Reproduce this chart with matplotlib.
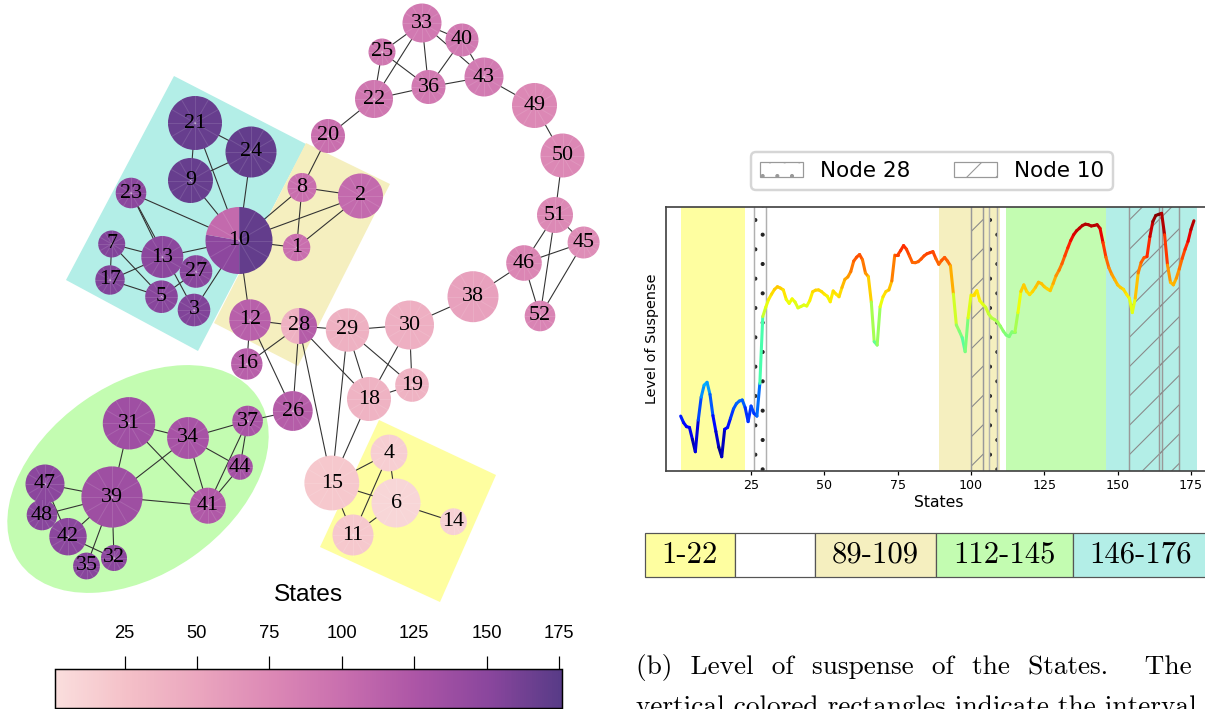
import numpy as np
import matplotlib as mpl
import matplotlib.pyplot as plt
from matplotlib.patches import Wedge, Polygon, Ellipse, Rectangle, Patch
from matplotlib.collections import LineCollection
from matplotlib.colors import LinearSegmentedColormap, Normalize

W, H, DPI = 1205, 709, 176
plt.rcParams['hatch.linewidth'] = 0.45

# ---------------- character network ----------------
node_ids = [33, 40, 25, 43, 36, 22, 49, 20, 50, 21, 24, 9, 8, 2, 23, 51, 45, 10, 1, 7,
            13, 27, 46, 17, 5, 3, 38, 52, 12, 28, 29, 30, 16, 19, 18, 26, 31, 34, 37, 44,
            4, 15, 6, 47, 39, 41, 14, 48, 42, 11, 32, 35]
node_x = [422, 462, 382, 484, 428.5, 374, 534.5, 328, 562.5, 195, 251, 190.5, 302, 360.5, 131, 555, 583.6, 239, 296.6, 111.7,
          162.3, 196, 524, 110, 161.5, 194, 473, 540, 250, 299, 347.5, 409.5, 246.8, 412, 369, 292.8, 129, 188, 247.6, 240,
          389, 331.8, 396, 45, 112, 207.8, 453.5, 42, 68, 353, 114, 86.5]
node_y = [23, 40, 52, 77, 87, 99, 105.5, 136, 155.5, 123, 152, 180.5, 187.5, 196, 193, 215, 242.5, 240.5, 247.5, 244,
          257, 271.5, 263, 280, 296.7, 310, 296.7, 316, 320, 326, 330, 325, 364, 385, 399, 411, 423.3, 438, 421, 467,
          453, 483, 503, 484, 497, 505.7, 521.7, 515, 536.7, 535, 558, 566]
node_r = [19.5, 16.5, 13.5, 19.5, 17, 19, 22.5, 17, 22, 27, 25.5, 22.5, 14.5, 22.5, 15.3, 18, 16, 33.5, 13.7, 13.5,
          21, 16.3, 17.8, 14.7, 16.3, 16.3, 25.5, 15.3, 20.7, 18, 21.7, 24.5, 15.7, 16.8, 22, 19.9, 26.2, 20.9, 15.3, 12.8,
          18.4, 27.4, 24.5, 19.5, 30.6, 18, 13.4, 15.3, 18.7, 20.5, 13, 13.4]
node_state = [90, 90, 92, 88, 90, 92, 76, 100, 76, 168, 170, 168, 100, 105, 150, 75, 72, 165, 100, 155,
              150, 152, 78, 155, 152, 155, 55, 80, 115, 80, 40, 42, 115, 38, 38, 118, 135, 130, 128, 132,
              14, 20, 8, 150, 136, 122, 12, 152, 150, 20, 150, 152]
# nodes whose states split into clearly different groups: (state, angle from, angle to)
split_nodes = {10: [(170, -90, 90), (148, 90, 190), (105, 190, 270)],
               28: [(40, 90, 270), (118, -90, 90)]}

edges = [(33, 25), (33, 22), (33, 36), (33, 40), (33, 43), (25, 22), (25, 36), (22, 36), (36, 43), (36, 40),
         (40, 43), (43, 49), (49, 50), (50, 51), (51, 46), (51, 52), (51, 45), (45, 46), (45, 52), (46, 52),
         (46, 38), (38, 30), (22, 20), (20, 8), (8, 2), (8, 1), (8, 10), (2, 10), (2, 1), (10, 1),
         (10, 9), (10, 21), (10, 24), (10, 23), (10, 13), (10, 3), (10, 12), (21, 24), (21, 9), (9, 24),
         (23, 13), (23, 3), (7, 13), (7, 17), (7, 5), (17, 13), (17, 5), (5, 27), (12, 28), (12, 16),
         (12, 26), (28, 16), (28, 26), (28, 29), (28, 18), (28, 15), (29, 30), (29, 18), (29, 15), (29, 19),
         (30, 18), (30, 19), (18, 19), (18, 15), (26, 37), (15, 4), (15, 6), (15, 11), (4, 6), (4, 11),
         (6, 11), (6, 14), (31, 34), (31, 39), (31, 41), (34, 37), (34, 39), (34, 41), (34, 44), (37, 44),
         (37, 41), (44, 41), (39, 47), (39, 48), (39, 41), (39, 42), (39, 32), (39, 35), (47, 42), (42, 32)]

# ---------------- suspense curve ----------------
states = np.arange(1, 177)
suspense = [20.8, 18.3, 16.8, 16.5, 12.0, 7.3, 19.3, 28.0, 32.5, 33.6,
            29.0, 21.0, 15.0, 9.0, 5.4, 15.8, 16.5, 20.0, 23.5, 25.5,
            26.5, 26.9, 24.0, 18.7, 24.6, 21.8, 20.8, 33.2, 58.5, 62.0,
            65.0, 67.0, 68.8, 69.8, 69.3, 68.6, 65.0, 63.5, 65.2, 64.0,
            61.8, 62.3, 62.9, 62.5, 64.5, 67.9, 68.5, 68.6, 68.0, 67.0,
            66.2, 64.1, 68.2, 67.0, 66.0, 69.5, 72.6, 73.5, 75.5, 79.5,
            81.0, 82.0, 80.0, 75.0, 73.6, 64.0, 49.0, 47.7, 62.2, 66.0,
            68.0, 68.6, 72.0, 81.8, 81.8, 83.5, 85.4, 84.0, 81.5, 79.0,
            78.9, 79.3, 80.3, 81.5, 82.3, 82.7, 83.1, 80.5, 78.3, 79.8,
            80.9, 79.5, 77.7, 67.0, 55.3, 53.0, 50.5, 45.2, 58.0, 66.7,
            66.7, 68.3, 64.5, 63.2, 62.0, 59.5, 58.0, 57.4, 56.5, 54.9,
            53.0, 51.5, 50.9, 52.8, 52.8, 60.0, 68.0, 70.5, 68.0, 66.8,
            68.0, 69.6, 71.5, 71.0, 69.8, 69.0, 68.3, 71.0, 74.0, 76.0,
            78.5, 81.5, 84.5, 87.3, 89.5, 91.0, 92.0, 93.0, 93.5, 93.3,
            92.8, 93.0, 93.3, 91.9, 86.5, 81.0, 77.0, 74.5, 72.5, 70.5,
            69.5, 68.8, 67.0, 65.4, 60.0, 65.5, 75.0, 79.0, 80.8, 81.2,
            88.8, 94.5, 96.8, 97.2, 97.6, 89.5, 78.0, 71.5, 70.5, 73.0,
            76.5, 80.5, 84.0, 87.0, 91.5, 94.8]

interval_labels = ['1-22', '', '89-109', '112-145', '146-176']
intervals = [(1, 22), (89, 109), (112, 145), (146, 176)]
node28_spans = [(26, 30), (106, 109)]
node10_spans = [(100, 104), (154, 165), (164, 171)]

c_yellow, c_beige, c_green, c_cyan = '#fefea0', '#f5efbf', '#c3fcb1', '#b3eee7'

state_cmap = LinearSegmentedColormap.from_list(
    'states', ['#fadedd', '#f4c0c8', '#eaa5be', '#dc88b5', '#c86eae', '#ac55a6', '#8a469d', '#583b87'])
state_norm = Normalize(1, 176)


def px_box(x0, y0, x1, y1):
    return [x0 / W, 1 - y1 / H, (x1 - x0) / W, (y1 - y0) / H]


fig = plt.figure(figsize=(W / DPI, H / DPI), dpi=DPI)

# ---- network ----
ax_net = fig.add_axes([0, 0, 1, 1])
ax_net.set_xlim(0, W)
ax_net.set_ylim(H, 0)
ax_net.set_axis_off()

ax_net.add_patch(Polygon([(174, 76), (306, 144), (198, 351), (66, 280)], color=c_cyan, lw=0, zorder=0))
ax_net.add_patch(Polygon([(306, 143), (390, 184), (298, 366), (214, 323)], color=c_beige, lw=0, zorder=0))
ax_net.add_patch(Polygon([(379, 420), (496, 475), (440, 602), (320, 547)], color=c_yellow, lw=0, zorder=0))
ax_net.add_patch(Ellipse((138, 479), 290, 190, angle=-35, color=c_green, lw=0, zorder=0))

pos = {n: (x, y) for n, x, y in zip(node_ids, node_x, node_y)}
ax_net.add_collection(LineCollection([[pos[a], pos[b]] for a, b in edges],
                                     colors='#333333', linewidths=0.45, zorder=1))

for n, x, y, r, s in zip(node_ids, node_x, node_y, node_r, node_state):
    parts = split_nodes.get(n, [(s, 0, 360)])
    for val, t0, t1 in parts:
        ax_net.add_patch(Wedge((x, y), r, t0, t1, facecolor=state_cmap(state_norm(val)),
                               edgecolor='none', zorder=2))
    # faint slice borders inside each node
    for t in np.arange(0, 360, 30):
        ax_net.plot([x, x + r * np.cos(np.radians(t))], [y, y + r * np.sin(np.radians(t))],
                    color='white', alpha=0.12, lw=0.4, zorder=3)
    ax_net.text(x, y, str(n), ha='center', va='center', fontsize=9,
                family='Liberation Serif', zorder=4)

cax = fig.add_axes(px_box(55, 669, 562, 708))
sm = mpl.cm.ScalarMappable(norm=state_norm, cmap=state_cmap)
cb = fig.colorbar(sm, cax=cax, orientation='horizontal', ticklocation='top')
cb.set_ticks([25, 50, 75, 100, 125, 150, 175])
cax.tick_params(length=5.2, width=0.5, labelsize=7.5, pad=6)
for t in cax.get_xticklabels():
    t.set_family('Liberation Sans')
cb.outline.set_linewidth(0.6)
fig.text(308.5 / W, 1 - 595 / H, 'States', ha='center', va='center', fontsize=10,
         family='Liberation Sans')

# ---- suspense curve ----
ax = fig.add_axes(px_box(666, 207, 1211.5, 471))
ax.set_xlim(-4, 182)
ax.set_ylim(0, 100)

for (a, b), c in zip(intervals, [c_yellow, c_beige, c_green, c_cyan]):
    ax.axvspan(a, b + 1, color=c, lw=0, zorder=0)
for a, b in node28_spans:
    ax.axvspan(a, b, facecolor='none', edgecolor='#222222', hatch='..', lw=0, zorder=1)
    for xv in (a, b):
        ax.axvline(xv, color='#b0b0b0', lw=0.6, zorder=1)
for a, b in node10_spans:
    ax.axvspan(a, b, facecolor='none', edgecolor='#8a8a8a', hatch='//', lw=0, zorder=1)
    for xv in (a, b):
        ax.axvline(xv, color='#999999', lw=0.6, zorder=1)

pts = np.column_stack([states, suspense])
segs = np.stack([pts[:-1], pts[1:]], axis=1)
mid = (np.array(suspense[:-1]) + np.array(suspense[1:])) / 2
lc = LineCollection(segs, cmap='jet', norm=Normalize(min(suspense), max(suspense)),
                    linewidths=1.25, capstyle='round', zorder=3)
lc.set_array(mid)
ax.add_collection(lc)

ax.set_xticks([25, 50, 75, 100, 125, 150, 175])
ax.set_yticks([])
ax.tick_params(axis='x', length=1.8, width=0.5, labelsize=5.2, pad=1.5)
for sp in ax.spines.values():
    sp.set_linewidth(0.7)
    sp.set_color('#444444')
ax.set_xlabel('States', fontsize=6.4, labelpad=1)
ax.set_ylabel('Level of Suspense', fontsize=5.9, labelpad=3)

handles = [Patch(facecolor='white', edgecolor='#999999', hatch='..', lw=0.5, label='Node 28'),
           Patch(facecolor='white', edgecolor='#999999', hatch='//', lw=0.5, label='Node 10')]
fig.legend(handles=handles, ncol=2, loc='center', bbox_to_anchor=(932 / W, 1 - 171 / H),
           fontsize=8.8, frameon=True)

# ---- interval table ----
ax_tab = fig.add_axes(px_box(644.7, 533.3, 1208, 576.7))
ax_tab.set_xlim(0, 563.3)
ax_tab.set_ylim(0, 1)
ax_tab.set_axis_off()
cell_edges = [0, 89.8, 169.8, 290.8, 428.3, 563.3]
cell_colors = [c_yellow, 'white', c_beige, c_green, c_cyan]
for i, (lab, c) in enumerate(zip(interval_labels, cell_colors)):
    x0, x1 = cell_edges[i], cell_edges[i + 1]
    ax_tab.add_patch(Rectangle((x0, 0), x1 - x0, 1, facecolor=c, edgecolor='#555555', lw=0.5,
                               clip_on=False))
    ax_tab.text((x0 + x1) / 2, 0.5, lab, ha='center', va='center', fontsize=12.6, family='cmr10')

fig.text(636 / W, 1 - 674 / H, '(b)  Level  of  suspense  of  the  States.    The',
         ha='left', va='baseline', fontsize=11.2, family='cmr10')
fig.text(636 / W, 1 - 714 / H, 'vertical colored rectangles indicate the interval',
         ha='left', va='baseline', fontsize=11.2, family='cmr10')

fig.savefig('out.png', dpi=DPI)
